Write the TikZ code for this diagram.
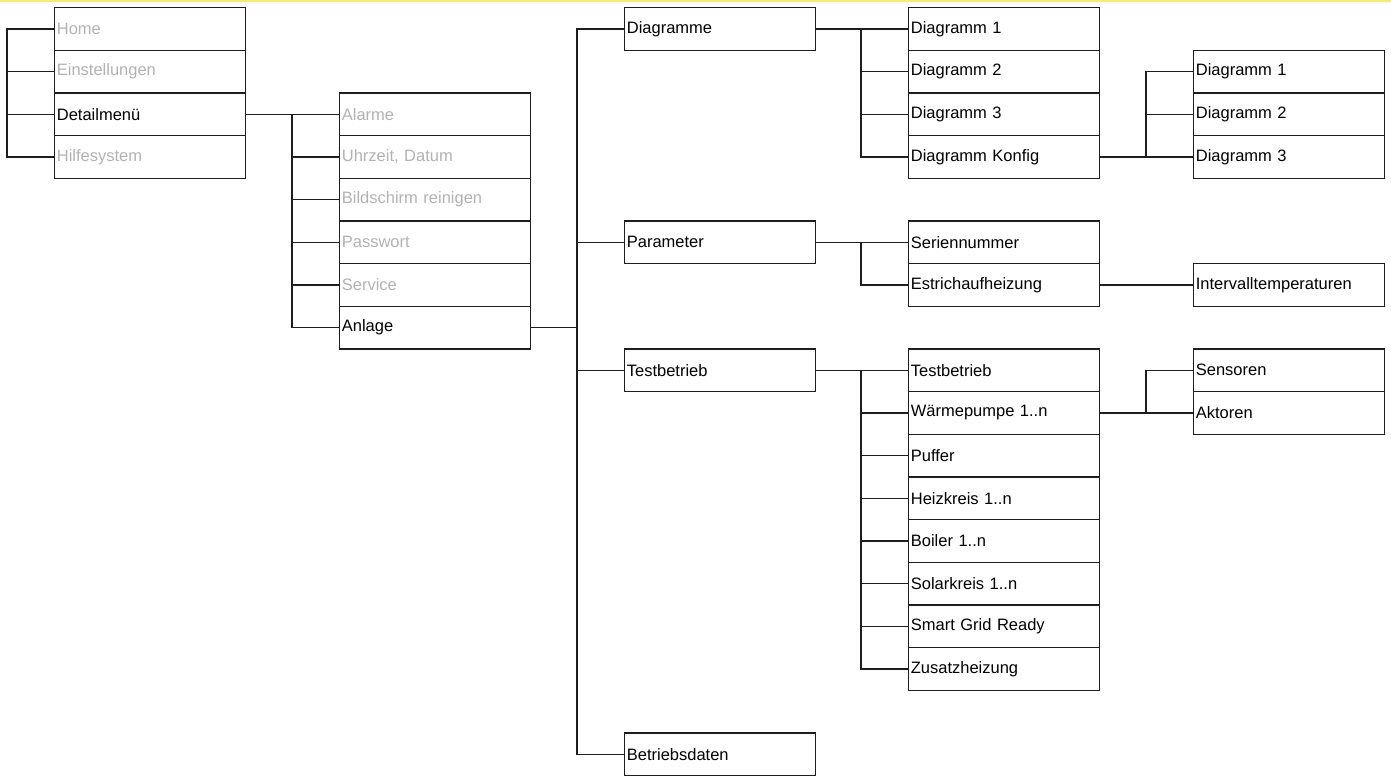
\documentclass[tikz,border=0pt]{standalone}
\usepackage{fontspec}
\setmainfont{Liberation Sans}
\definecolor{dimtext}{RGB}{178,178,178}
\definecolor{topband}{RGB}{247,236,110}
\definecolor{linec}{RGB}{30,30,30}
\newcommand{\rt}[1]{\fpeval{7+42.67*#1}}
\begin{document}
\begin{tikzpicture}[x=1pt,y=-1pt,
  menubox/.style={draw=linec,line width=1.2pt,rectangle,anchor=north west,
    minimum width=190.5pt,minimum height=42.67pt,text width=186pt,
    inner sep=0pt,inner xsep=2pt,align=left,font=\fontsize{16.5}{18}\selectfont},
  dim/.style={text=dimtext},
  conn/.style={draw=linec,line width=1.2pt},
  fanout/.style={conn}]
\useasboundingbox (0,0) rectangle (1391,778);
\fill[topband] (0,0) rectangle (1391,2.5);
% column 0
\node[menubox,dim] (home) at (54,\rt{0}) {Home};
\node[menubox,dim] (einst) at (54,\rt{1}) {Einstellungen};
\node[menubox] (detail) at (54,\rt{2}) {Detailmenü};
\node[menubox,dim] (hilfe) at (54,\rt{3}) {Hilfesystem};
% column 1
\node[menubox,dim] (alarme) at (339,\rt{2}) {Alarme};
\node[menubox,dim] (uhr) at (339,\rt{3}) {Uhrzeit, Datum};
\node[menubox,dim] (bild) at (339,\rt{4}) {Bildschirm reinigen};
\node[menubox,dim] (pass) at (339,\rt{5}) {Passwort};
\node[menubox,dim] (serv) at (339,\rt{6}) {Service};
\node[menubox] (anlage) at (339,\rt{7}) {Anlage};
% column 2
\node[menubox] (diag) at (624,\rt{0}) {Diagramme};
\node[menubox] (param) at (624,\rt{5}) {Parameter};
\node[menubox] (test) at (624,\rt{8}) {Testbetrieb};
\node[menubox] (betr) at (624,\rt{17}) {Betriebsdaten};
% column 3
\node[menubox] (dA) at (908,\rt{0}) {Diagramm 1};
\node[menubox] (dB) at (908,\rt{1}) {Diagramm 2};
\node[menubox] (dC) at (908,\rt{2}) {Diagramm 3};
\node[menubox] (dK) at (908,\rt{3}) {Diagramm Konfig};
\node[menubox] (seri) at (908,\rt{5}) {Seriennummer};
\node[menubox] (estr) at (908,\rt{6}) {Estrichaufheizung};
\node[menubox] (tb) at (908,\rt{8}) {Testbetrieb};
\node[menubox] (wp) at (908,\rt{9}) {Wärmepumpe 1..n};
\node[menubox] (puf) at (908,\rt{10}) {Puffer};
\node[menubox] (hk) at (908,\rt{11}) {Heizkreis 1..n};
\node[menubox] (boi) at (908,\rt{12}) {Boiler 1..n};
\node[menubox] (sol) at (908,\rt{13}) {Solarkreis 1..n};
\node[menubox] (sgr) at (908,\rt{14}) {Smart Grid Ready};
\node[menubox] (zus) at (908,\rt{15}) {Zusatzheizung};
% column 4
\node[menubox] (kA) at (1193,\rt{1}) {Diagramm 1};
\node[menubox] (kB) at (1193,\rt{2}) {Diagramm 2};
\node[menubox] (kC) at (1193,\rt{3}) {Diagramm 3};
\node[menubox] (intv) at (1193,\rt{6}) {Intervalltemperaturen};
\node[menubox] (sens) at (1193,\rt{8}) {Sensoren};
\node[menubox] (akt) at (1193,\rt{9}) {Aktoren};
% brackets
\draw[fanout] (home.west) -- ++(-47,0) |- (hilfe.west);
\draw[fanout] (einst.west) -- ++(-47,0);
\draw[fanout] (detail.west) -- ++(-47,0);
\draw[fanout] (alarme.west) -- ++(-47,0) |- (anlage.west);
\foreach \n in {uhr,bild,pass,serv} \draw[fanout] (\n.west) -- ++(-47,0);
\draw[fanout] (diag.west) -- ++(-47,0) coordinate (bk2) |- (betr.west);
\foreach \n in {param,test} \draw[fanout] (\n.west) -- ++(-47,0);
\draw[fanout] (dA.west) -- ++(-47,0) |- (dK.west);
\foreach \n in {dB,dC} \draw[fanout] (\n.west) -- ++(-47,0);
\draw[fanout] (kA.west) -- ++(-47,0) |- (kC.west);
\draw[fanout] (kB.west) -- ++(-47,0);
\draw[fanout] (seri.west) -- ++(-47,0) |- (estr.west);
\draw[fanout] (tb.west) -- ++(-47,0) |- (zus.west);
\foreach \n in {wp,puf,hk,boi,sol,sgr} \draw[fanout] (\n.west) -- ++(-47,0);
\draw[fanout] (sens.west) -- ++(-47,0) |- (akt.west);
% parent links
\draw[conn] (detail.east) -- (alarme.west);
\draw[conn] (anlage.east) -- (anlage.east -| bk2);
\draw[conn] (diag.east) -- (dA.west);
\draw[conn] (dK.east) -- (kC.west);
\draw[conn] (param.east) -- (seri.west);
\draw[conn] (estr.east) -- (intv.west);
\draw[conn] (test.east) -- (tb.west);
\draw[conn] (wp.east) -- (akt.west);
\end{tikzpicture}
\end{document}
